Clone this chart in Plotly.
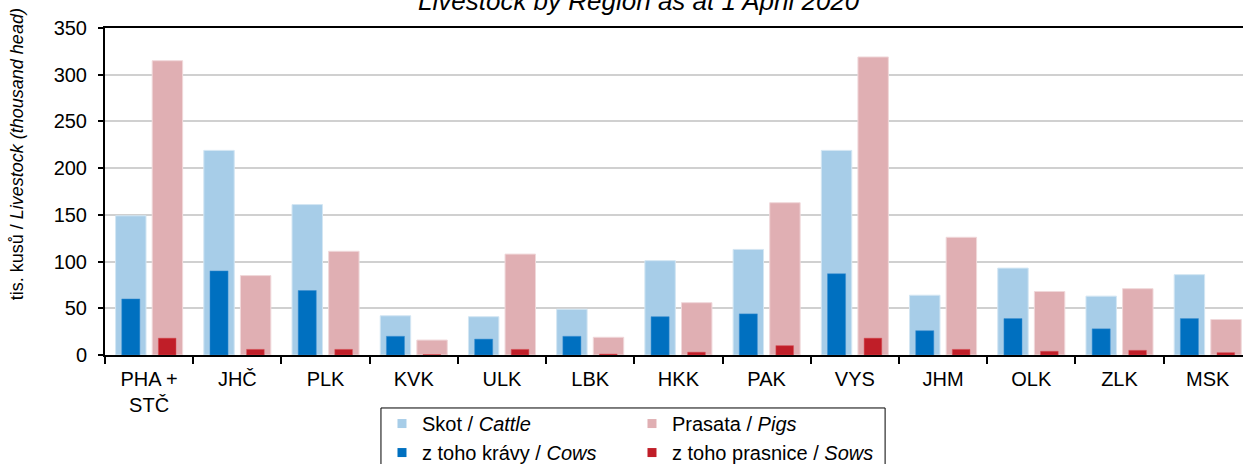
import plotly.graph_objects as go

regions = ["PHA +<br>STČ", "JHČ", "PLK", "KVK", "ULK", "LBK", "HKK", "PAK", "VYS", "JHM", "OLK", "ZLK", "MSK"]
cattle = [149, 219, 161, 42, 41, 49, 101, 113, 219, 64, 93, 63, 86]
cows = [60, 90, 69, 20, 17, 20, 41, 44, 87, 26, 39, 28, 39]
pigs = [315, 85, 111, 16, 108, 19, 56, 163, 319, 126, 68, 71, 38]
sows = [18, 6, 6, 0.5, 6, 1, 3, 10, 18, 6, 4, 5, 2.5]

FONT = "Liberation Sans, Arial, sans-serif"
C_CATTLE = "#a7cde8"
C_COWS = "#0070c0"
C_PIGS = "#e0afb3"
C_SOWS = "#c01e28"

fig = go.Figure()

# wide bars first, narrow "of which" bars drawn over them
fig.add_trace(go.Bar(x=regions, y=cattle, offset=-0.38, width=0.345,
                     marker=dict(color=C_CATTLE, line=dict(color="#d3e6f3", width=1)),
                     showlegend=False))
fig.add_trace(go.Bar(x=regions, y=pigs, offset=0.035, width=0.345,
                     marker=dict(color=C_PIGS, line=dict(color="#f0d8da", width=1)),
                     showlegend=False))
fig.add_trace(go.Bar(x=regions, y=cows, offset=-0.31, width=0.205,
                     marker=dict(color=C_COWS, line=dict(color="#3a8fd0", width=0.5)),
                     showlegend=False))
fig.add_trace(go.Bar(x=regions, y=sows, offset=0.105, width=0.2,
                     marker=dict(color=C_SOWS, line=dict(color="#d85058", width=0.5)),
                     showlegend=False))

# legend entries (small square swatches)
legend_items = [
    ("Skot / <i>Cattle</i>", C_CATTLE, "a"),
    ("z toho krávy / <i>Cows</i>", C_COWS, "a"),
    ("Prasata / <i>Pigs</i>", C_PIGS, "b"),
    ("z toho prasnice / <i>Sows</i>", C_SOWS, "b"),
]
for name, col, grp in legend_items:
    fig.add_trace(go.Scatter(x=[None], y=[None], mode="markers", name=name,
                             legendgroup=grp,
                             marker=dict(symbol="square", size=9, color=col)))

# frame around the legend (runs off the bottom of the page)
fig.add_shape(type="rect", xref="paper", yref="paper",
              x0=0.2425, x1=0.6855, y0=-0.162, y1=-0.45,
              line=dict(color="black", width=1), fillcolor="white", layer="below")

fig.add_annotation(text="tis. kusů / <i>Livestock (thousand head)</i>",
                   xref="paper", yref="paper", x=-0.077, y=0.615,
                   xanchor="center", yanchor="middle", textangle=-90,
                   showarrow=False, font=dict(family=FONT, size=18, color="black"))

# title sits partly above the page edge, as in the source image
fig.add_annotation(text="<i>Livestock by Region as at 1 April 2020</i>",
                   xref="paper", yref="paper", x=0.4695, y=1.0835,
                   xanchor="center", yanchor="middle", showarrow=False,
                   font=dict(family=FONT, size=26, color="black"))

fig.update_layout(
    width=1243, height=464,
    barmode="overlay",
    plot_bgcolor="white", paper_bgcolor="white",
    margin=dict(l=105, r=0, t=28, b=109, autoexpand=False),
    font=dict(family=FONT, size=20, color="black"),
    legend=dict(orientation="h", traceorder="grouped",
                x=0.2434, y=-0.150, xanchor="left", yanchor="top",
                bgcolor="rgba(0,0,0,0)", borderwidth=0,
                entrywidth=205, tracegroupgap=0,
                font=dict(family=FONT, size=20, color="black")),
    xaxis=dict(range=[-0.5, 12.4], showline=True, linecolor="black", linewidth=2,
               mirror=True, ticks="outside", tickson="boundaries", ticklen=7,
               tickwidth=1.5, tickcolor="black", showgrid=False,
               ticklabelstandoff=5,
               tickfont=dict(family=FONT, size=20)),
    yaxis=dict(range=[0, 350], dtick=50, showline=True, linecolor="black", linewidth=2,
               ticks="outside", ticklen=5, tickwidth=1.5, tickcolor="black",
               showgrid=True, gridcolor="#d0d0d0", gridwidth=1.5,
               ticklabelstandoff=7,
               zeroline=False, tickfont=dict(family=FONT, size=20)),
)

fig.write_html("out.html", config={"displayModeBar": False},
               post_script="document.body.style.margin='0';")
